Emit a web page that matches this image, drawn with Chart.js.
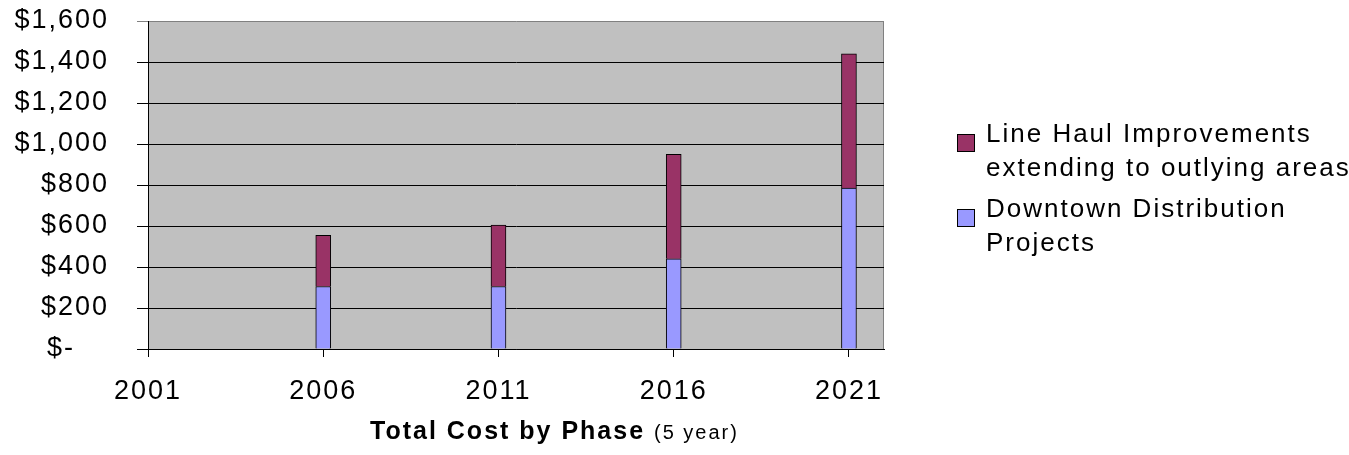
<!DOCTYPE html>
<html>
<head>
<meta charset="utf-8">
<script src="https://cdn.jsdelivr.net/npm/chart.js@4/dist/chart.umd.min.js"></script>
<style>
  html, body { margin: 0; padding: 0; background: #fff; }
  body { width: 1349px; height: 455px; position: relative; overflow: hidden;
         font-family: "Liberation Sans", Arial, sans-serif; color: #000; }
  #chart { position: absolute; left: 0; top: 0; }
  .legend { position: absolute; left: 957px; font-size: 26px; letter-spacing: 2px; line-height: 33.5px; }
  .legend .box { position: absolute; left: 0; top: 17px; width: 18px; height: 18px;
                 border: 1px solid #000; box-sizing: border-box; }
  .legend .txt { position: absolute; left: 29px; top: 0; white-space: nowrap; }
  #title { position: absolute; left: 370px; top: 415px; line-height: 30px; white-space: nowrap;
           font-size: 25px; font-weight: bold; letter-spacing: 2px; }
  #title span { font-size: 20px; font-weight: normal; }
</style>
</head>
<body>
<canvas id="chart" width="1349" height="455"></canvas>

<div class="legend" style="top:117px">
  <div class="box" style="background:#993366"></div>
  <div class="txt">Line Haul Improvements<br>extending to outlying areas</div>
</div>
<div class="legend" style="top:192px">
  <div class="box" style="background:#9999FF"></div>
  <div class="txt">Downtown Distribution<br>Projects</div>
</div>
<div id="title">Total Cost by Phase <span>(5 year)</span></div>

<script>
// Data
const years = [2006, 2011, 2016, 2021];
const downtown = [305, 305, 440, 785];
const lineHaul = [250, 300, 510, 655];
const xTicks = [2001, 2006, 2011, 2016, 2021];
const yTicks = [0, 200, 400, 600, 800, 1000, 1200, 1400, 1600];

Chart.defaults.font.family = '"Liberation Sans", Arial, sans-serif';
Chart.defaults.font.size = 27;
Chart.defaults.color = '#000';

// plot background + spaced lettering like the original
const plotBg = {
    id: 'plotBg',
    beforeUpdate(chart) { chart.ctx.letterSpacing = '2px'; },
    beforeDraw(chart) {
        const { ctx, chartArea: a } = chart;
        ctx.letterSpacing = '2px';
        ctx.save();
        ctx.fillStyle = '#C0C0C0';
        ctx.fillRect(a.left, a.top, a.right - a.left, a.bottom - a.top);
        ctx.strokeStyle = '#808080';
        ctx.lineWidth = 1;
        ctx.beginPath();
        ctx.moveTo(Math.round(a.right) - 0.5, a.top);
        ctx.lineTo(Math.round(a.right) - 0.5, a.bottom);
        ctx.stroke();
        ctx.restore();
    }
};

new Chart(document.getElementById('chart'), {
    type: 'bar',
    data: {
        datasets: [{
            label: 'Downtown Distribution Projects',
            data: years.map((y, i) => ({ x: y, y: downtown[i] })),
            backgroundColor: '#9999FF',
            borderColor: '#000',
            borderWidth: 1,
            barThickness: 15
        }, {
            label: 'Line Haul Improvements extending to outlying areas',
            data: years.map((y, i) => ({ x: y, y: lineHaul[i] })),
            backgroundColor: '#993366',
            borderColor: '#000',
            borderWidth: 1,
            barThickness: 15
        }]
    },
    options: {
        responsive: false,
        animation: false,
        layout: { padding: { left: 0, right: 465, top: 21, bottom: 0 } },
        plugins: {
            legend: { display: false },
            tooltip: { enabled: false }
        },
        scales: {
            x: {
                type: 'linear',
                stacked: true,
                offset: false,
                min: 2001,
                max: 2022,
                afterBuildTicks: axis => { axis.ticks = xTicks.map(v => ({ value: v })); },
                afterFit: s => { s.height = 106; s.paddingLeft = 0; s.paddingRight = 0; },
                ticks: { padding: 18, maxRotation: 0, autoSkip: false, callback: v => String(v) },
                grid: { offset: false, drawOnChartArea: false, color: '#000', tickLength: 8 },
                border: { color: '#000' }
            },
            y: {
                stacked: true,
                min: 0,
                max: 1600,
                afterBuildTicks: axis => { axis.ticks = yTicks.map(v => ({ value: v })); },
                afterFit: s => { s.width = 148; s.paddingTop = 0; s.paddingBottom = 0; },
                ticks: {
                    padding: 28,
                    callback: v => v === 0 ? '$-\u2007\u2007' : '$' + v.toLocaleString('en-US')
                },
                grid: {
                    color: c => (c.tick && c.tick.value === 1600) ? '#808080' : '#000',
                    tickLength: 11
                },
                border: { color: '#000' }
            }
        }
    },
    plugins: [plotBg]
});
</script>
</body>
</html>
